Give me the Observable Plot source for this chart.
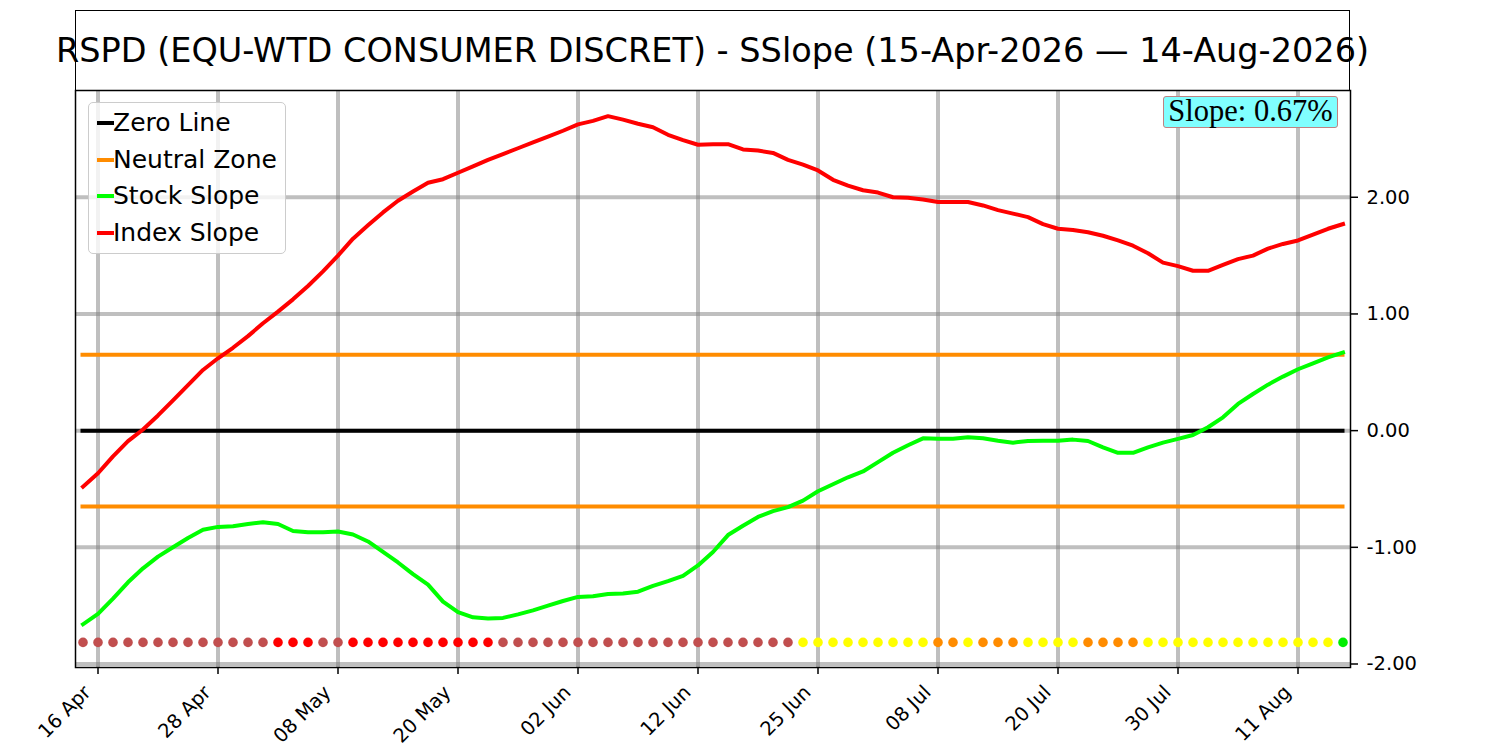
<!DOCTYPE html>
<html><head><meta charset="utf-8">
<script src="https://cdn.jsdelivr.net/npm/d3@7"></script>
<script src="https://cdn.jsdelivr.net/npm/@observablehq/plot@0.6"></script>
<style>
html,body{margin:0;padding:0;background:#fff;}
#wrap{position:relative;width:1500px;height:750px;font-family:"DejaVu Sans",sans-serif;overflow:hidden;}
#chart{position:absolute;left:0;top:0;}
#title{position:absolute;left:75px;top:10px;width:1275px;height:81px;box-sizing:border-box;border:1.5px solid #000;display:flex;align-items:center;justify-content:center;white-space:nowrap;font-size:33.5px;color:#000;}
#legend{position:absolute;left:88px;top:102px;width:198px;height:152px;box-sizing:border-box;border:1.5px solid #cccccc;border-radius:5px;background:rgba(255,255,255,0.8);font-size:25px;color:#000;}
.row{position:absolute;left:0;height:30px;line-height:30px;white-space:nowrap;}
.hdl{position:absolute;left:8px;top:13px;width:17px;height:4px;}
.lbl{position:absolute;left:24px;top:0;}
#slope{position:absolute;left:1163px;top:96px;width:175px;height:32px;box-sizing:border-box;border:1.5px solid #c08282;border-radius:3px;background:#80ffff;font-family:"Liberation Serif",serif;font-size:30.5px;line-height:29px;text-align:center;color:#000;white-space:nowrap;}
</style></head>
<body>
<div id="wrap">
  <div id="chart"></div>
  <div id="title"></div>
  <div id="legend"></div>
  <div id="slope"></div>
</div>
<script>
const titleText = "RSPD (EQU-WTD CONSUMER DISCRET) - SSlope (15-Apr-2026 \u2014 14-Aug-2026)";

const indexSlope = [
  -0.48,-0.365,-0.22,-0.09,0.01,0.13,0.26,0.39,0.52,0.62,
  0.71,0.81,0.92,1.02,1.125,1.24,1.365,1.50,1.645,1.76,
  1.87,1.97,2.05,2.125,2.155,2.21,2.265,2.32,2.37,2.42,
  2.47,2.52,2.57,2.625,2.655,2.695,2.665,2.63,2.60,2.535,
  2.49,2.45,2.455,2.455,2.41,2.40,2.38,2.32,2.28,2.23,
  2.15,2.10,2.06,2.04,2.00,1.995,1.98,1.96,1.96,1.96,
  1.93,1.89,1.86,1.83,1.77,1.73,1.72,1.70,1.67,1.63,
  1.585,1.52,1.44,1.41,1.37,1.37,1.42,1.47,1.50,1.56,
  1.60,1.63,1.68,1.73,1.77
];

const stockSlope = [
  -1.66,-1.57,-1.44,-1.30,-1.18,-1.08,-1.00,-0.92,-0.85,-0.825,
  -0.82,-0.80,-0.785,-0.80,-0.86,-0.87,-0.87,-0.865,-0.89,-0.95,
  -1.04,-1.13,-1.23,-1.32,-1.465,-1.555,-1.60,-1.61,-1.605,-1.575,
  -1.54,-1.50,-1.46,-1.425,-1.42,-1.40,-1.395,-1.38,-1.33,-1.29,
  -1.245,-1.155,-1.04,-0.895,-0.815,-0.74,-0.69,-0.655,-0.60,-0.52,
  -0.46,-0.40,-0.35,-0.27,-0.19,-0.125,-0.066,-0.069,-0.07,-0.057,
  -0.066,-0.086,-0.103,-0.089,-0.086,-0.086,-0.077,-0.089,-0.143,-0.19,
  -0.19,-0.143,-0.103,-0.071,-0.037,0.029,0.114,0.229,0.314,0.394,
  0.463,0.526,0.577,0.628,0.67
];

// per-day signal state shown as dots along the bottom
const signals = (
  "BBBBBBBBBBBBB" + "RRR" + "BB" + "RRRRRRRRRR" + "BBBBBBBBBBBBBBBBBBBB" +
  "YYYYYYYYY" + "OO" + "Y" + "OOO" + "YYYY" + "OOOO" + "YYYYYYYYYYYYY" + "G"
).split("");
const signalColors = {B: "#c14e4e", R: "#ff0000", Y: "#ffff00", O: "#ff8c00", G: "#00ee00"};
const signalLevel = -1.815;

const neutralZone = 0.65;
const tickLabels = ["16 Apr","28 Apr","08 May","20 May","02 Jun","12 Jun","25 Jun","08 Jul","20 Jul","30 Jul","11 Aug"];
const tickIdx = tickLabels.map((_, k) => 1 + 8 * k);
const yTicks = [-2, -1, 0, 1, 2];

const n = stockSlope.length;
const first = 0, last = n - 1;

const chart = Plot.plot({
  width: 1500,
  height: 750,
  marginTop: 90,
  marginLeft: 75,
  marginRight: 150,
  marginBottom: 83,
  x: {domain: [-0.5, n - 0.5]},
  y: {domain: [-2.03, 2.915]},
  style: {fontFamily: "DejaVu Sans", fontSize: "19.5px", color: "#000", background: "transparent", overflow: "visible"},
  marks: [
    Plot.ruleX(tickIdx, {stroke: "#808080", strokeOpacity: 0.5, strokeWidth: 4}),
    Plot.ruleY(yTicks, {stroke: "#808080", strokeOpacity: 0.5, strokeWidth: 4}),
    Plot.ruleY([neutralZone, -neutralZone], {x1: first, x2: last, stroke: "#ff8c00", strokeWidth: 4, strokeLinecap: "square"}),
    Plot.ruleY([0], {x1: first, x2: last, stroke: "#000", strokeWidth: 4, strokeLinecap: "square"}),
    Plot.lineY(stockSlope, {x: (d, i) => i, y: d => d, stroke: "#00ff00", strokeWidth: 4, strokeLinecap: "square", strokeLinejoin: "round"}),
    Plot.lineY(indexSlope, {x: (d, i) => i, y: d => d, stroke: "#ff0000", strokeWidth: 4, strokeLinecap: "square", strokeLinejoin: "round"}),
    Plot.dot(signals, {x: (d, i) => i, y: () => signalLevel, r: 4.8, fill: d => signalColors[d], stroke: null}),
    Plot.axisX({ticks: tickIdx, tickFormat: () => "", tickSize: 7, strokeWidth: 1.5, label: null}),
    Plot.text(tickIdx, {x: d => d, frameAnchor: "bottom", text: (d, i) => tickLabels[i], rotate: -45, textAnchor: "end", lineAnchor: "bottom", dx: -6, dy: 26, fontSize: 19.5, fill: "#000"}),
    Plot.axisY({anchor: "right", ticks: yTicks, tickFormat: d => d.toFixed(2), tickSize: 7, tickPadding: 9, fontSize: 19.5, strokeWidth: 1.5, label: null}),
    Plot.frame({stroke: "#000", strokeWidth: 1.5})
  ]
});
document.getElementById("chart").appendChild(chart);

document.getElementById("title").textContent = titleText;

const legendItems = [
  {label: "Zero Line", color: "#000"},
  {label: "Neutral Zone", color: "#ff8c00"},
  {label: "Stock Slope", color: "#00ff00"},
  {label: "Index Slope", color: "#ff0000"}
];
const legend = document.getElementById("legend");
legendItems.forEach((it, k) => {
  const row = document.createElement("div");
  row.className = "row";
  row.style.top = (5 + k * 36.5) + "px";
  const h = document.createElement("span");
  h.className = "hdl";
  h.style.background = it.color;
  const t = document.createElement("span");
  t.className = "lbl";
  t.textContent = it.label;
  row.appendChild(h); row.appendChild(t);
  legend.appendChild(row);
});

document.getElementById("slope").textContent = "Slope: " + stockSlope[last].toFixed(2) + "%";
</script>
</body></html>
